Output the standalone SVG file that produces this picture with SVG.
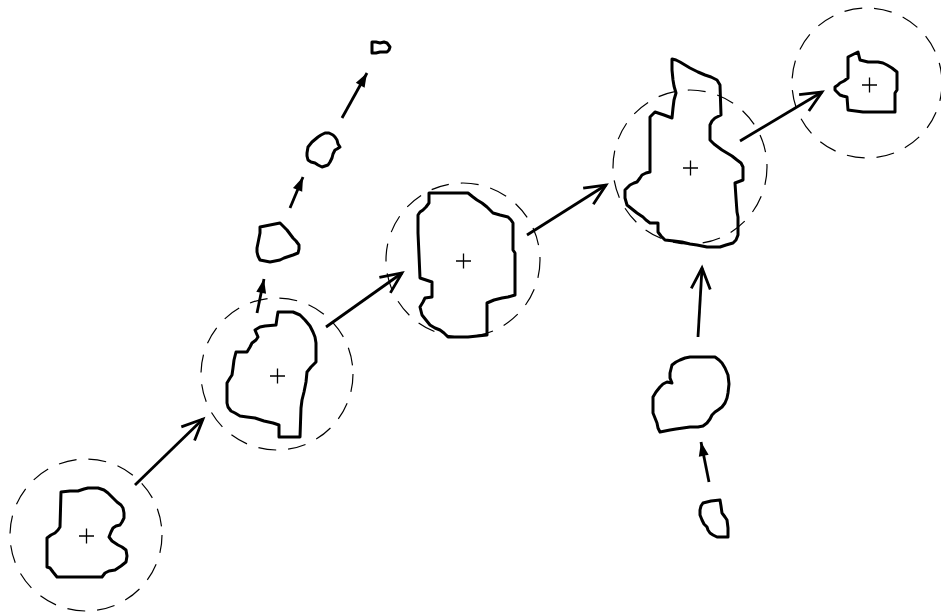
<svg xmlns="http://www.w3.org/2000/svg" width="941" height="613" viewBox="0 0 941 613">
  <style>
    .zone { fill: none; stroke: #000; stroke-width: 1.2; stroke-dasharray: 18 12; }
    .centre { fill: none; stroke: #000; stroke-width: 1.3; }
    .blob { fill: none; stroke: #000; stroke-width: 3; stroke-linejoin: round; }
    .link { fill: none; stroke: #000; stroke-width: 2.8; stroke-linecap: butt; }
    .open { marker-end: url(#chevron); }
    .solid { marker-end: url(#wedge); }
  </style>
  <defs>
    <marker id="chevron" markerUnits="userSpaceOnUse" viewBox="-24 -12 28 24" refX="0" refY="0" markerWidth="28" markerHeight="24" orient="auto" overflow="visible">
      <path d="M -21 -9.5 L 0 0 L -21 9.5" fill="none" stroke="#000" stroke-width="2.8" stroke-linejoin="miter"/>
    </marker>
    <marker id="wedge" markerUnits="userSpaceOnUse" viewBox="-16 -8 18 16" refX="0" refY="0" markerWidth="18" markerHeight="16" orient="auto" overflow="visible">
      <path d="M 0 0 L -14 -5 L -14 5 Z" fill="#000"/>
    </marker>
  </defs>

  <!-- connectors -->
  <g id="connectors">
    <line class="link open" x1="135" y1="485" x2="203" y2="419"/>
    <line class="link open" x1="326" y1="327" x2="402" y2="273"/>
    <line class="link open" x1="527" y1="235" x2="606" y2="185"/>
    <line class="link open" x1="740" y1="141" x2="822" y2="92"/>
    <line class="link open" x1="698" y1="337" x2="702" y2="268"/>
    <line class="link solid" x1="709" y1="482" x2="701" y2="442"/>
    <line class="link solid" x1="257" y1="313" x2="264" y2="279"/>
    <line class="link solid" x1="290" y1="208" x2="303" y2="177"/>
    <line class="link solid" x1="342" y1="118" x2="367" y2="73"/>
  </g>

  <!-- tracked regions with their search zones -->
  <g id="region-1">
    <circle class="zone" cx="86" cy="535" r="76"/>
    <path class="centre" d="M79 536 H94 M86.5 528.5 V543.5"/>
    <polygon class="blob" points="61,492 70,491 78,491 84,489 88,488 98,488 104,490 108,493 113,498 117,502 121,505 123,508 124,513 124,518 122,522 120,525 116,526 113,528 111,532 109,537 112,541 118,545 122,547 126,550 127,556 126,562 121,566 115,570 109,571 105,573 102,577 57,577 53,572 50,568 47,567 47,538 51,535 55,533 58,530 60,527"/>
  </g>

  <g id="region-2">
    <circle class="zone" cx="277" cy="374" r="76"/>
    <path class="centre" d="M270 376 H285 M277.5 368.5 V383.5"/>
    <polygon class="blob" points="278,312 293,312 300,315 305,320 310,326 313,332 315,337 316,343 316,362 311,367 307,372 306,382 304,392 302,400 301,408 300,437 279,437 279,425 273,423 264,421 255,418 247,417 240,416 235,413 231,411 228,407 227,403 227,383 230,378 232,375 233,368 234,360 236,352 247,352 250,347 252,343 256,340 258,337 255,330 260,327 265,326 276,325 277,318"/>
  </g>

  <g id="region-3">
    <circle class="zone" cx="463" cy="260" r="77"/>
    <path class="centre" d="M456 261 H471 M463.5 253.5 V268.5"/>
    <polygon class="blob" points="429,193 468,193 473,197 477,200 482,203 487,207 490,210 493,213 500,215 508,217 511,220 513,223 513,250 515,253 515,295 508,297 502,298 494,300 487,303 487,335 468,337 448,337 444,333 440,330 435,328 430,325 426,320 422,315 421,311 420,307 423,302 425,298 432,297 432,282 426,280 420,278 419,255 418,233 418,215 420,212 423,210 426,207 429,203"/>
  </g>

  <g id="region-4">
    <circle class="zone" cx="690" cy="167" r="77"/>
    <path class="centre" d="M683 168 H698 M690.5 160.5 V175.5"/>
    <polygon class="blob" points="672,59 676,60 680,62 685,65 690,68 698,72 705,75 711,77 717,80 720,85 721,115 715,118 712,121 710,125 710,140 714,144 718,147 722,150 727,153 732,156 737,160 741,163 743,167 743,180 735,183 736,198 737,212 738,217 738,235 736,240 733,243 726,245 720,247 707,247 697,245 690,244 682,242 674,241 665,240 661,236 658,232 658,223 650,223 646,220 643,217 640,215 637,213 632,209 627,205 625,198 625,190 628,187 630,185 634,183 637,182 640,178 642,175 646,173 650,172 650,117 655,112 664,115 672,118 673,108 674,100 676,93 674,86 673,80 672,70"/>
  </g>

  <g id="region-5">
    <circle class="zone" cx="867" cy="83" r="75"/>
    <path class="centre" d="M862 85 H877 M869.5 77.5 V92.5"/>
    <polygon class="blob" points="848,57 858,52 860,60 864,61 868,62 878,62 883,63 887,65 892,68 897,72 897,90 895,93 895,112 863,112 848,110 847,97 843,96 840,95 837,92 835,90 835,87 838,85 840,83 844,81 848,78"/>
  </g>

  <!-- untracked fragments -->
  <g id="fragment-a">
    <polygon class="blob" points="372,42 376,42 380,43 384,42 387,43 390,47 389,50 387,52 383,52 380,52 376,53 372,53"/>
  </g>
  <g id="fragment-b">
    <polygon class="blob" points="308,147 312,142 318,137 321,135 325,133 329,133 333,135 335,137 337,140 338,144 340,147 337,149 335,150 333,154 332,158 330,162 328,165 322,167 318,165 315,163 311,162 308,160 307,156 307,153"/>
  </g>
  <g id="fragment-c">
    <polygon class="blob" points="260,227 265,226 270,225 275,224 280,223 284,227 287,230 290,234 293,238 296,241 299,245 299,249 298,253 293,255 287,257 284,258 280,260 275,261 270,262 265,261 260,260 258,256 257,252 257,248 258,243 259,238 260,233"/>
  </g>
  <g id="fragment-d">
    <polygon class="blob" points="695,357 715,357 719,360 722,363 725,368 728,375 729,384 728,393 727,398 725,403 722,407 718,410 715,412 712,415 710,419 707,423 703,426 698,427 690,427 683,428 676,429 670,430 665,431 660,432 658,428 657,423 655,418 653,413 653,405 653,397 656,392 660,387 663,384 667,382 672,383 670,378 670,373 671,369 672,365 676,362 680,360 685,358 690,357"/>
  </g>
  <g id="fragment-e">
    <polygon class="blob" points="703,503 711,501 720,500 721,506 722,513 725,517 727,520 728,528 728,537 722,537 717,537 713,535 710,533 708,530 707,527 704,524 702,520 700,515 700,510 701,506"/>
  </g>
</svg>
